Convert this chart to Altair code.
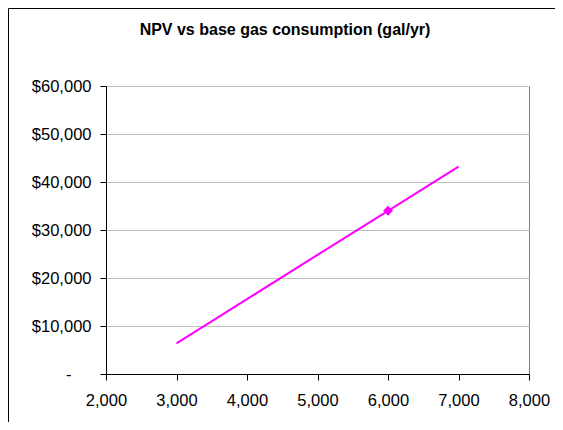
import altair as alt
import pandas as pd

# Data
consumption = [3000, 4000, 5000, 6000, 7000]
npv = [6400, 15600, 24800, 34000, 43200]
base_consumption = [6000]
base_npv = [34000]
x_ticks = [2000, 3000, 4000, 5000, 6000, 7000, 8000]
y_ticks = [0, 10000, 20000, 30000, 40000, 50000, 60000]
title_text = "NPV vs base gas consumption (gal/yr)"

line_df = pd.DataFrame({"x": consumption, "y": npv})
base_df = pd.DataFrame({"x": base_consumption, "y": base_npv})

FONT = "Liberation Sans"
MAGENTA = "#FF00FF"
LABEL_SIZE = 16.5

x_enc = alt.X("x:Q", scale=alt.Scale(domain=[2000, 8000], nice=False),
              axis=alt.Axis(values=x_ticks, format=",.0f", title=None, grid=False,
                            domainColor="black", tickColor="black", tickSize=6,
                            labelPadding=12, labelFontSize=LABEL_SIZE, labelFont=FONT,
                            labelColor="black", labelFlush=False, labelOverlap=False))
y_enc = alt.Y("y:Q", scale=alt.Scale(domain=[0, 60000], nice=False),
              axis=alt.Axis(values=y_ticks, title=None, grid=True, gridColor="#c0c0c0",
                            domainColor="black", tickColor="black", tickSize=6,
                            labelExpr="datum.value == 0 ? '-' : '$' + format(datum.value, ',.0f')",
                            labelPadding={"condition": {"test": "datum.value == 0", "value": 29}, "value": 9},
                            labelFontSize=LABEL_SIZE, labelFont=FONT, labelColor="black",
                            labelFlush=False, labelOverlap=False))

border_left = alt.Chart(alt.Data(values=[{}])).mark_rule(color="black", strokeWidth=1).encode(
    x=alt.value(-97.5), y=alt.value(-77.5), y2=alt.value(400))
border_top = alt.Chart(alt.Data(values=[{}])).mark_rule(color="black", strokeWidth=1).encode(
    y=alt.value(-77.5), x=alt.value(-97.5), x2=alt.value(600))

title = alt.Chart(alt.Data(values=[{}])).mark_text(
    font=FONT, fontSize=16, fontWeight="bold", color="black", align="center", baseline="middle"
).encode(x=alt.value(179), y=alt.value(-56), text=alt.value(title_text))

line = alt.Chart(line_df).mark_line(color=MAGENTA, strokeWidth=2).encode(x=x_enc, y=y_enc)
point = alt.Chart(base_df).mark_point(shape="diamond", filled=True, color=MAGENTA, size=100, opacity=1).encode(x="x:Q", y="y:Q")

chart = alt.layer(line, point, border_left, border_top, title).properties(
    width=423, height=288,
    autosize=alt.AutoSizeParams(type="none"),
    padding={"left": 98, "top": 78, "right": 26, "bottom": 48},
    background="white",
).configure_view(stroke="#808080", strokeWidth=1)

chart.save("out.html", embed_options={"renderer": "svg", "actions": False})
